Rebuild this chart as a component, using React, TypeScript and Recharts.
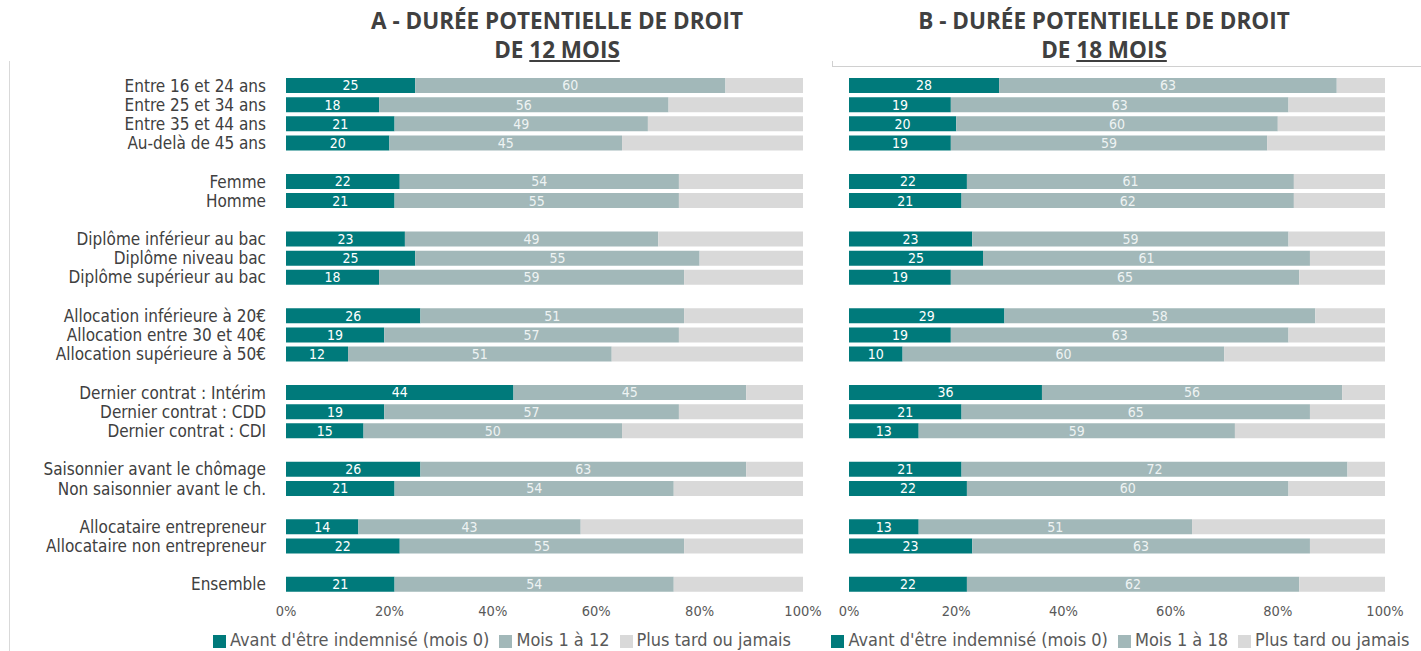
import React from 'react';
import { BarChart, Bar, XAxis, YAxis, LabelList, Legend } from 'recharts';

const CATEGORIES = [
  'Entre 16 et 24 ans',
  'Entre 25 et 34 ans',
  'Entre 35 et 44 ans',
  'Au-delà de 45 ans',
  'Femme',
  'Homme',
  'Diplôme inférieur au bac',
  'Diplôme niveau bac',
  'Diplôme supérieur au bac',
  'Allocation inférieure à 20€',
  'Allocation entre 30 et 40€',
  'Allocation supérieure à 50€',
  'Dernier contrat : Intérim',
  'Dernier contrat : CDD',
  'Dernier contrat : CDI',
  'Saisonnier avant le chômage',
  'Non saisonnier avant le ch.',
  'Allocataire entrepreneur',
  'Allocataire non entrepreneur',
  'Ensemble',
];

// number of categories per block, an empty row separates the blocks
const GROUP_SIZES = [4, 2, 3, 3, 3, 2, 2, 1];

// A - 12 mois
const A_AVANT = [25, 18, 21, 20, 22, 21, 23, 25, 18, 26, 19, 12, 44, 19, 15, 26, 21, 14, 22, 21];
const A_MOIS = [60, 56, 49, 45, 54, 55, 49, 55, 59, 51, 57, 51, 45, 57, 50, 63, 54, 43, 55, 54];
const A_PLUS = [15, 26, 30, 35, 24, 24, 28, 20, 23, 23, 24, 37, 11, 24, 35, 11, 25, 43, 23, 25];

// B - 18 mois
const B_AVANT = [28, 19, 20, 19, 22, 21, 23, 25, 19, 29, 19, 10, 36, 21, 13, 21, 22, 13, 23, 22];
const B_MOIS = [63, 63, 60, 59, 61, 62, 59, 61, 65, 58, 63, 60, 56, 65, 59, 72, 60, 51, 63, 62];
const B_PLUS = [9, 18, 20, 22, 17, 17, 18, 14, 16, 13, 18, 30, 8, 14, 28, 7, 18, 36, 14, 16];

const SERIES_A = ["Avant d'être indemnisé (mois 0)", 'Mois 1 à 12', 'Plus tard ou jamais'];
const SERIES_B = ["Avant d'être indemnisé (mois 0)", 'Mois 1 à 18', 'Plus tard ou jamais'];

const X_TICKS = [0, 20, 40, 60, 80, 100];

const TEAL = '#007a7b';
const GREY_TEAL = '#a2b8b9';
const LIGHT = '#d9d9d9';
const NARROW = "'Liberation Sans Narrow', 'DejaVu Sans Condensed', sans-serif";

type Row = { label: string; avant?: number; mois?: number; plus?: number };

function buildRows(avant: number[], mois: number[], plus: number[]): Row[] {
  const rows: Row[] = [];
  let i = 0;
  GROUP_SIZES.forEach((size, g) => {
    if (g > 0) rows.push({ label: '' });
    for (let k = 0; k < size; k++, i++) {
      rows.push({ label: CATEGORIES[i], avant: avant[i], mois: mois[i], plus: plus[i] });
    }
  });
  return rows;
}

const rowsA = buildRows(A_AVANT, A_MOIS, A_PLUS);
const rowsB = buildRows(B_AVANT, B_MOIS, B_PLUS);

function Panel({ rows, names, width, margin, showLabels, legendLeft, legendWidth }: {
  rows: Row[];
  names: string[];
  width: number;
  margin: { top: number; right: number; bottom: number; left: number };
  showLabels: boolean;
  legendLeft: number;
  legendWidth: number;
}) {
  return (
    <BarChart width={width} height={651} data={rows} layout="vertical" margin={margin} barSize={15}>
      <XAxis
        type="number"
        domain={[0, 100]}
        ticks={X_TICKS}
        tickFormatter={(v) => `${v}%`}
        axisLine={false}
        tickLine={false}
        tickSize={6}
        tickMargin={6}
        height={30}
        interval={0}
        tick={{ fill: '#595959', fontSize: 14.5, fontFamily: NARROW }}
      />
      <YAxis
        type="category"
        dataKey="label"
        width={showLabels ? 286 : 0}
        hide={!showLabels}
        axisLine={false}
        tickLine={false}
        tickSize={6}
        tickMargin={14}
        interval={0}
        tick={{ fill: '#404040', fontSize: 17, fontFamily: NARROW }}
      />
      <Legend
        verticalAlign="middle"
        layout="horizontal"
        iconType="square"
        iconSize={13}
        wrapperStyle={{ top: 629, left: legendLeft, width: legendWidth, fontSize: 18, fontFamily: NARROW, whiteSpace: 'nowrap' }}
        formatter={(value) => <span style={{ color: '#595959' }}>{value}</span>}
      />
      <Bar dataKey="avant" name={names[0]} stackId="s" fill={TEAL} isAnimationActive={false}>
        <LabelList dataKey="avant" position="center" fill="#ffffff" fontSize={14} fontFamily={NARROW} />
      </Bar>
      <Bar dataKey="mois" name={names[1]} stackId="s" fill={GREY_TEAL} isAnimationActive={false}>
        <LabelList dataKey="mois" position="center" fill="#eef3f3" fontSize={14} fontFamily={NARROW} />
      </Bar>
      <Bar dataKey="plus" name={names[2]} stackId="s" fill={LIGHT} isAnimationActive={false} />
    </BarChart>
  );
}

const titleStyle: React.CSSProperties = {
  position: 'absolute',
  top: 6,
  width: 560,
  textAlign: 'center',
  fontFamily: "'Open Sans', sans-serif",
  fontWeight: 700,
  fontSize: 22.5,
  lineHeight: '29px',
  color: '#404040',
};

export default function App() {
  return (
    <div style={{ position: 'absolute', left: 0, top: 0, width: 1421, height: 651, background: '#fff', overflow: 'hidden' }}>
      <div style={{ position: 'absolute', left: 9, top: 61, width: 1, height: 590, background: '#d9d9d9' }} />
      <div style={{ position: 'absolute', left: 832, top: 66, width: 589, height: 1, background: '#d0d0d0' }} />
      <div style={{ position: 'absolute', left: 832, top: 61, width: 1, height: 5, background: '#d0d0d0' }} />
      <div style={{ ...titleStyle, left: 557 - 280 }}>
        <div>A - DURÉE POTENTIELLE DE DROIT</div>
        <div>
          DE <span style={{ textDecoration: 'underline' }}>12 MOIS</span>
        </div>
      </div>
      <div style={{ ...titleStyle, left: 1104 - 280 }}>
        <div>B - DURÉE POTENTIELLE DE DROIT</div>
        <div>
          DE <span style={{ textDecoration: 'underline' }}>18 MOIS</span>
        </div>
      </div>
      <div style={{ position: 'absolute', left: 0, top: 0 }}>
        <Panel
          rows={rowsA}
          names={SERIES_A}
          width={830}
          margin={{ top: 76, right: 27, bottom: 27, left: 0 }}
          showLabels
          legendLeft={200}
          legendWidth={614}
        />
      </div>
      <div style={{ position: 'absolute', left: 830, top: 0 }}>
        <Panel
          rows={rowsB}
          names={SERIES_B}
          width={591}
          margin={{ top: 76, right: 36, bottom: 27, left: 19 }}
          showLabels={false}
          legendLeft={-15}
          legendWidth={621}
        />
      </div>
    </div>
  );
}
